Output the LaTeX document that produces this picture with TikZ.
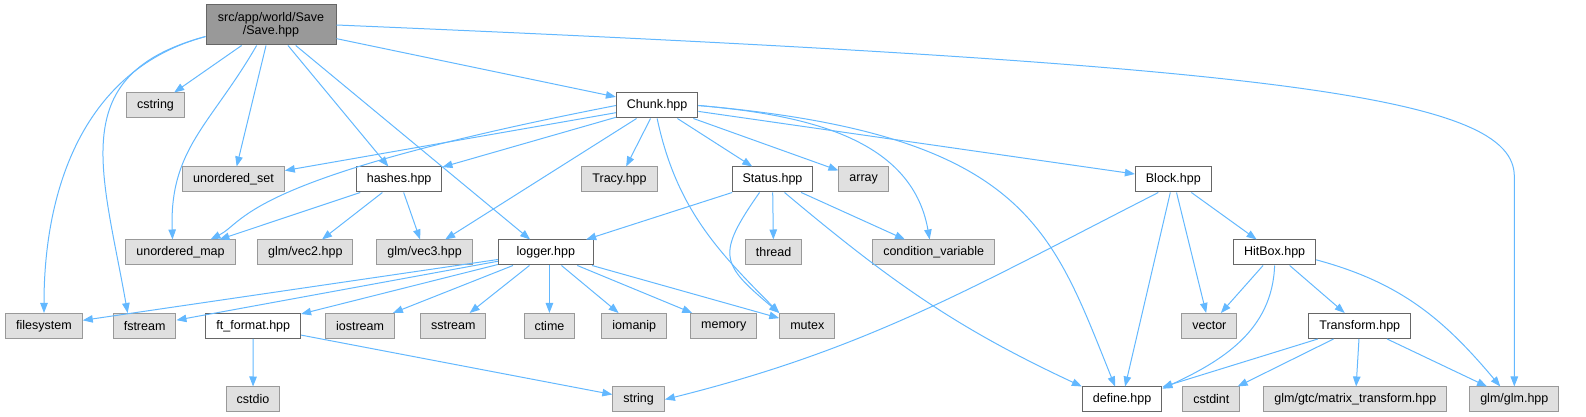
\documentclass[tikz,border=0pt]{standalone}
\usepackage{fontspec}
\setmainfont{Liberation Sans}
\usepackage{tikz}
\usetikzlibrary{positioning,arrows.meta}
\definecolor{edgeblue}{HTML}{63B8FF}
\definecolor{sysfill}{HTML}{E0E0E0}
\definecolor{sysline}{HTML}{999999}
\definecolor{usrline}{HTML}{666666}
\definecolor{hdrfill}{HTML}{999999}

\begin{document}
\begin{tikzpicture}[
  x=1pt, y=1pt,
  font=\fontsize{12.5}{15}\selectfont,
  every node/.style={align=center, inner xsep=10.5pt, inner ysep=2pt, minimum height=25pt},
  sys/.style={draw=sysline, fill=sysfill, line width=1pt},
  usr/.style={draw=usrline, fill=white, line width=1pt},
  hdr/.style={draw=usrline, fill=hdrfill, line width=1pt, minimum width=130pt, minimum height=40pt, inner xsep=0pt},
  dep/.style={draw=edgeblue, line width=1pt, -{Triangle[length=10pt,width=7.5pt]}}
]
\useasboundingbox (0,0) rectangle (1586,417);

\node[hdr] (save) at (271,392) {src/app/world/Save\\[-2pt]/Save.hpp};

\node[sys] (cstring) at (155.5,311.5) {cstring};
\node[usr, right=431pt of cstring] (chunk) {Chunk.hpp};

\node[sys] (uset) at (233.5,237.5) {unordered\_set};
\node[usr, right=71pt of uset] (hashes) {hashes.hpp};
\node[sys, right=139pt of hashes] (tracy) {Tracy.hpp};
\node[usr, right=74pt of tracy] (status) {Status.hpp};
\node[sys, right=25pt of status] (array) {array};
\node[usr, right=246pt of array] (block) {Block.hpp};

\node[sys] (umap) at (180.5,164.5) {unordered\_map};
\node[sys, right=21.5pt of umap] (vec2) {glm/vec2.hpp};
\node[sys, right=23pt of vec2] (vec3) {glm/vec3.hpp};
\node[usr, right=25pt of vec3, minimum width=95pt] (logger) {logger.hpp};
\node[sys, right=151pt of logger] (thread) {thread};
\node[sys, right=70pt of thread] (condvar) {condition\_variable};
\node[usr, right=238pt of condvar] (hitbox) {HitBox.hpp};

\node[sys] (fs) at (44,91) {filesystem};
\node[sys, right=30pt of fs] (fstream) {fstream};
\node[usr, right=29pt of fstream] (ftfmt) {ft\_format.hpp};
\node[sys, right=24pt of ftfmt] (iostream) {iostream};
\node[sys, right=25pt of iostream] (sstream) {sstream};
\node[sys, right=37pt of sstream] (ctime) {ctime};
\node[sys, right=26pt of ctime] (iomanip) {iomanip};
\node[sys, right=23pt of iomanip] (memory) {memory};
\node[sys, right=22pt of memory] (mutex) {mutex};
\node[sys, right=346pt of mutex] (vector) {vector};
\node[usr, right=71pt of vector] (transform) {Transform.hpp};

\node[sys] (cstdio) at (253,17.5) {cstdio};
\node[sys, right=332pt of cstdio] (string) {string};
\node[usr, right=417pt of string] (define) {define.hpp};
\node[sys, right=20pt of define] (cstdint) {cstdint};
\node[sys, right=23pt of cstdint] (matrix) {glm/gtc/matrix\_transform.hpp};
\node[sys, right=22pt of matrix] (glm) {glm/glm.hpp};

\foreach \n in {cstring,uset,hashes,chunk,logger} \draw[dep] (save) -- (\n);
\draw[dep] (save.190) to[out=195,in=90] (fs.north);
\draw[dep] (save.190) to[out=195,in=100,looseness=1.3] ([xshift=-17pt]fstream.north);
\draw[dep] (save.235) to[out=240,in=92,looseness=1.1] ([xshift=-8pt]umap.north);
\draw[dep] (save.east) .. controls +(950,-40) and +(0,80) .. ([yshift=210pt]glm.north) -- (glm.north);

\foreach \n in {uset,hashes,tracy,vec3,status,array,block} \draw[dep] (chunk) -- (\n);
\draw[dep] (chunk.west) to[out=191,in=27,out distance=380pt,in distance=40pt] ([xshift=30pt]umap.north);
\draw[dep] (chunk.south) to[out=-78,in=135] (mutex.north west);
\draw[dep] (chunk.east) to[out=-5,in=100] ([xshift=-4pt]condvar.north);
\draw[dep] (chunk.east) to[out=-5,in=112,out distance=330pt,in distance=170pt] ([xshift=-7pt]define.north);

\foreach \n in {umap,vec2,vec3} \draw[dep] (hashes) -- (\n);

\foreach \n in {logger,thread,condvar} \draw[dep] (status) -- (\n);
\draw[dep] ([xshift=-13pt]status.south) to[out=-125,in=140,looseness=1.6] (mutex.north west);
\draw[dep] ([xshift=12pt]status.south) to[out=-40,in=155] (define.north west);

\foreach \n in {fs,fstream,ftfmt,iostream,sstream,iomanip,memory,mutex} \draw[dep] (logger) -- (\n);
\draw[dep] (logger.south -| ctime.north) -- (ctime);

\foreach \n in {cstdio,string} \draw[dep] (ftfmt) -- (\n);

\draw[dep] ([xshift=-15pt]block.south) to[out=207,in=14] (string.east);
\foreach \n in {define,vector,hitbox} \draw[dep] (block) -- (\n);

\foreach \n in {vector,transform} \draw[dep] (hitbox) -- (\n);
\draw[dep] (hitbox.south) to[out=-92,in=25] (define.15);
\draw[dep] (hitbox.-10) to[out=-15,in=130] ([xshift=-14pt]glm.north);

\foreach \n in {define,cstdint,matrix,glm} \draw[dep] (transform) -- (\n);
\end{tikzpicture}
\end{document}
